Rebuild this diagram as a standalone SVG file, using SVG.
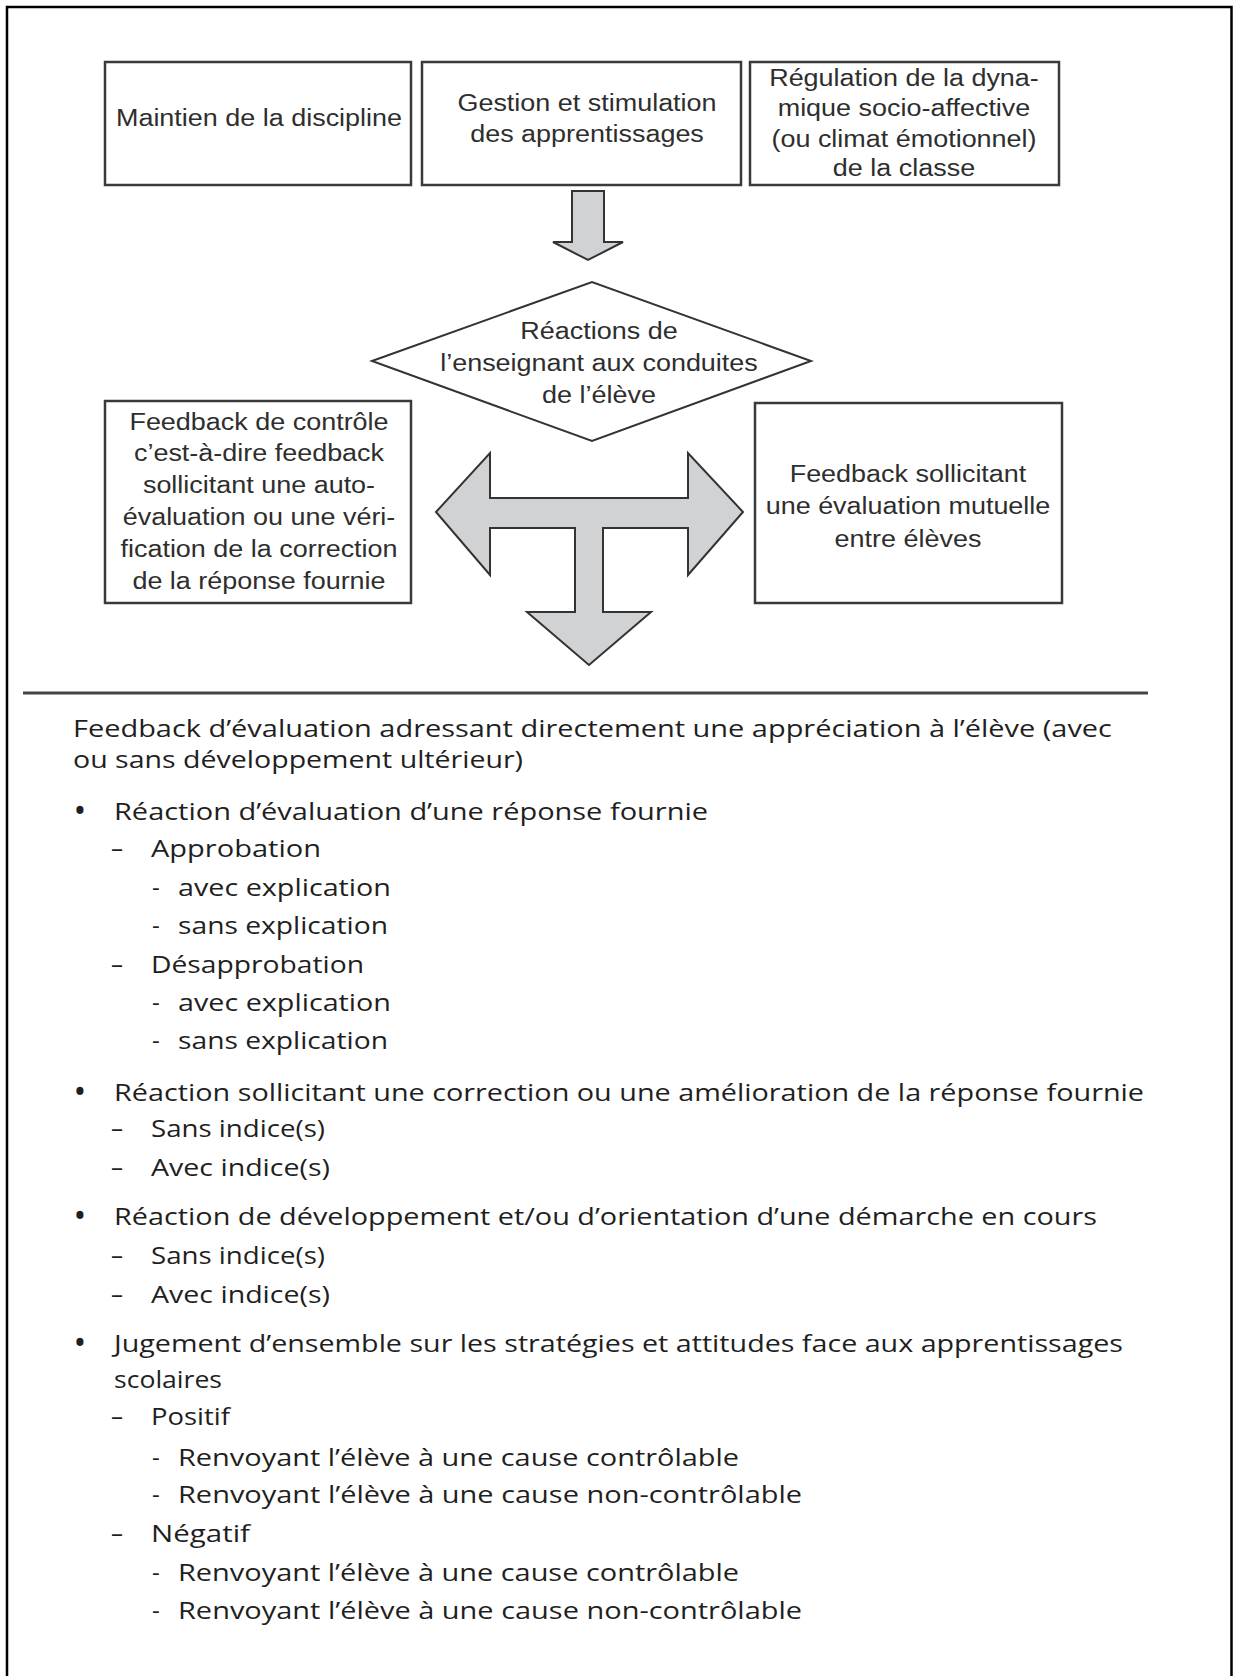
<svg xmlns="http://www.w3.org/2000/svg" width="1233" height="1676" viewBox="0 0 1233 1676">
<style>
.frame{fill:none;stroke:#000;stroke-width:2.5}
.box{fill:#fff;stroke:#3a3a3a;stroke-width:2.5}
.dia{fill:#fff;stroke:#333;stroke-width:2}
.arrow{fill:#d1d2d4;stroke:#333;stroke-width:2;stroke-linejoin:miter}
.sep{stroke:#444;stroke-width:3}
.t{font-family:"Liberation Sans",Arial,sans-serif;font-size:24.5px;fill:#2e2e2e;text-anchor:middle}
.l{font-family:"Open Sans","Noto Sans",sans-serif;font-size:24px;font-weight:500;fill:#1f1f1f}
.b{font-family:"Open Sans","Noto Sans",sans-serif;font-size:34px;fill:#1f1f1f;text-anchor:middle}
</style>
<rect width="1233" height="1676" fill="#fff"/>
<path class="frame" d="M7,1676 V7 H1231.5 V1676"/>

<g id="connectors">
  <polygon class="arrow" points="572,191 604,191 604,242 623,242 588,260 553,242 572,242"/>
  <polygon class="arrow" points="436,512 490,453 490,498 688,498 688,453 743,512 688,575 688,528 603,528 603,612 651,612 589,665 527,612 575,612 575,528 490,528 490,575"/>
</g>

<g id="n-discipline">
  <rect class="box" x="105" y="62" width="306" height="123"/>
  <text class="t" transform="matrix(1.1 0 0 1 259 0)" x="0" y="126">Maintien de la discipline</text>
</g>
<g id="n-gestion">
  <rect class="box" x="422" y="62" width="319" height="123"/>
  <g transform="matrix(1.1 0 0 1 587 0)">
    <text class="t" x="0" y="111">Gestion et stimulation</text>
    <text class="t" x="0" y="142">des apprentissages</text>
  </g>
</g>
<g id="n-regulation">
  <rect class="box" x="750" y="62" width="309" height="123"/>
  <g transform="matrix(1.1 0 0 1 904 0)">
    <text class="t" x="0" y="86">Régulation de la dyna-</text>
    <text class="t" x="0" y="116.5">mique socio-affective</text>
    <text class="t" x="0" y="147">(ou climat émotionnel)</text>
    <text class="t" x="0" y="176">de la classe</text>
  </g>
</g>
<g id="n-reactions">
  <polygon class="dia" points="372,361 592,282 811,361 592,441"/>
  <g transform="matrix(1.1 0 0 1 599 0)">
    <text class="t" x="0" y="339">Réactions de</text>
    <text class="t" x="0" y="371">l’enseignant aux conduites</text>
    <text class="t" x="0" y="403">de l’élève</text>
  </g>
</g>
<g id="n-controle">
  <rect class="box" x="105" y="401" width="306" height="202"/>
  <g transform="matrix(1.1 0 0 1 259 0)">
    <text class="t" x="0" y="430">Feedback de contrôle</text>
    <text class="t" x="0" y="461.5">c’est-à-dire feedback</text>
    <text class="t" x="0" y="493">sollicitant une auto-</text>
    <text class="t" x="0" y="525">évaluation ou une véri-</text>
    <text class="t" x="0" y="557">fication de la correction</text>
    <text class="t" x="0" y="589">de la réponse fournie</text>
  </g>
</g>
<g id="n-mutuelle">
  <rect class="box" x="755" y="403" width="307" height="200"/>
  <g transform="matrix(1.1 0 0 1 908 0)">
    <text class="t" x="0" y="482">Feedback sollicitant</text>
    <text class="t" x="0" y="514">une évaluation mutuelle</text>
    <text class="t" x="0" y="547">entre élèves</text>
  </g>
</g>

<line class="sep" x1="23" y1="693" x2="1148" y2="693"/>

<g id="n-evaluation">
  <text class="l" x="73" y="737" textLength="1039" lengthAdjust="spacingAndGlyphs">Feedback d’évaluation adressant directement une appréciation à l’élève (avec</text>
  <text class="l" x="73" y="768" textLength="450" lengthAdjust="spacingAndGlyphs">ou sans développement ultérieur)</text>

  <text class="b" x="80" y="823">•</text>
  <text class="l" x="114" y="820" textLength="594" lengthAdjust="spacingAndGlyphs">Réaction d’évaluation d’une réponse fournie</text>
  <text class="l" x="111" y="857">–</text>
  <text class="l" x="151" y="857" textLength="170" lengthAdjust="spacingAndGlyphs">Approbation</text>
  <text class="l" x="152" y="896">-</text>
  <text class="l" x="178" y="896" textLength="213" lengthAdjust="spacingAndGlyphs">avec explication</text>
  <text class="l" x="152" y="934">-</text>
  <text class="l" x="178" y="934" textLength="210" lengthAdjust="spacingAndGlyphs">sans explication</text>
  <text class="l" x="111" y="973">–</text>
  <text class="l" x="151" y="973" textLength="213" lengthAdjust="spacingAndGlyphs">Désapprobation</text>
  <text class="l" x="152" y="1011">-</text>
  <text class="l" x="178" y="1011" textLength="213" lengthAdjust="spacingAndGlyphs">avec explication</text>
  <text class="l" x="152" y="1049">-</text>
  <text class="l" x="178" y="1049" textLength="210" lengthAdjust="spacingAndGlyphs">sans explication</text>

  <text class="b" x="80" y="1104">•</text>
  <text class="l" x="114" y="1101" textLength="1030" lengthAdjust="spacingAndGlyphs">Réaction sollicitant une correction ou une amélioration de la réponse fournie</text>
  <text class="l" x="111" y="1137">–</text>
  <text class="l" x="151" y="1137" textLength="174" lengthAdjust="spacingAndGlyphs">Sans indice(s)</text>
  <text class="l" x="111" y="1176">–</text>
  <text class="l" x="151" y="1176" textLength="179" lengthAdjust="spacingAndGlyphs">Avec indice(s)</text>

  <text class="b" x="80" y="1228">•</text>
  <text class="l" x="114" y="1225" textLength="983" lengthAdjust="spacingAndGlyphs">Réaction de développement et/ou d’orientation d’une démarche en cours</text>
  <text class="l" x="111" y="1264">–</text>
  <text class="l" x="151" y="1264" textLength="174" lengthAdjust="spacingAndGlyphs">Sans indice(s)</text>
  <text class="l" x="111" y="1303">–</text>
  <text class="l" x="151" y="1303" textLength="179" lengthAdjust="spacingAndGlyphs">Avec indice(s)</text>

  <text class="b" x="80" y="1355">•</text>
  <text class="l" x="114" y="1352" textLength="1009" lengthAdjust="spacingAndGlyphs">Jugement d’ensemble sur les stratégies et attitudes face aux apprentissages</text>
  <text class="l" x="114" y="1388" textLength="108" lengthAdjust="spacingAndGlyphs">scolaires</text>
  <text class="l" x="111" y="1425">–</text>
  <text class="l" x="151" y="1425" textLength="79" lengthAdjust="spacingAndGlyphs">Positif</text>
  <text class="l" x="152" y="1466">-</text>
  <text class="l" x="178" y="1466" textLength="561" lengthAdjust="spacingAndGlyphs">Renvoyant l’élève à une cause contrôlable</text>
  <text class="l" x="152" y="1503">-</text>
  <text class="l" x="178" y="1503" textLength="624" lengthAdjust="spacingAndGlyphs">Renvoyant l’élève à une cause non-contrôlable</text>
  <text class="l" x="111" y="1542">–</text>
  <text class="l" x="151" y="1542" textLength="99" lengthAdjust="spacingAndGlyphs">Négatif</text>
  <text class="l" x="152" y="1581">-</text>
  <text class="l" x="178" y="1581" textLength="561" lengthAdjust="spacingAndGlyphs">Renvoyant l’élève à une cause contrôlable</text>
  <text class="l" x="152" y="1619">-</text>
  <text class="l" x="178" y="1619" textLength="624" lengthAdjust="spacingAndGlyphs">Renvoyant l’élève à une cause non-contrôlable</text>
</g>
</svg>
